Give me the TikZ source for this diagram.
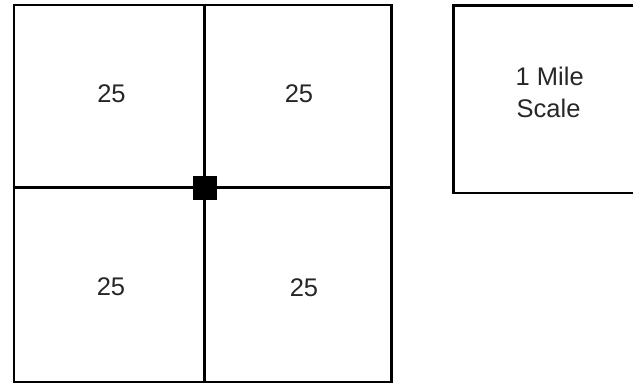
\documentclass[tikz,border=0pt]{standalone}
\usepackage{fontspec}
\setmainfont{Liberation Sans}
\begin{document}
\begin{tikzpicture}[x=1pt,y=-1pt,
  frame/.style={draw=black,line width=2.6pt},
  divider/.style={draw=black,line width=2.2pt},
  lbl/.style={inner sep=0pt,font=\fontsize{25.5}{31}\selectfont,text=black!85},
  marker/.style={fill=black,minimum size=24pt,inner sep=0pt}]
\useasboundingbox (0,0) rectangle (633,383);
% grid
\coordinate (tl) at (14,5);
\coordinate (br) at (391.5,382);
\coordinate (ntop) at (204.5,5);
\coordinate (nbot) at (204.5,382);
\coordinate (wmid) at (14,187.5);
\coordinate (emid) at (391.5,187.5);
\draw[divider] (ntop) -- (nbot);
\draw[divider] (wmid) -- (emid);
\draw[frame] (tl) rectangle (br);
\node[marker] (center) at (205,188) {};
% scale box (cut off at the right edge)
\coordinate (stl) at (453.5,5.5);
\coordinate (sbr) at (640,193);
\draw[frame] (stl) rectangle (sbr);
% labels
\node[lbl] (q1) at (111.5,93.5) {25};
\node[lbl] (q2) at (299,93.5) {25};
\node[lbl] (q3) at (111,286.5) {25};
\node[lbl] (q4) at (304,287.5) {25};
\node[lbl,anchor=base west] (mile) at (515.5,85.5) {1 Mile};
\node[lbl,anchor=base west] (scl) at (516.5,117) {Scale};
\end{tikzpicture}
\end{document}
